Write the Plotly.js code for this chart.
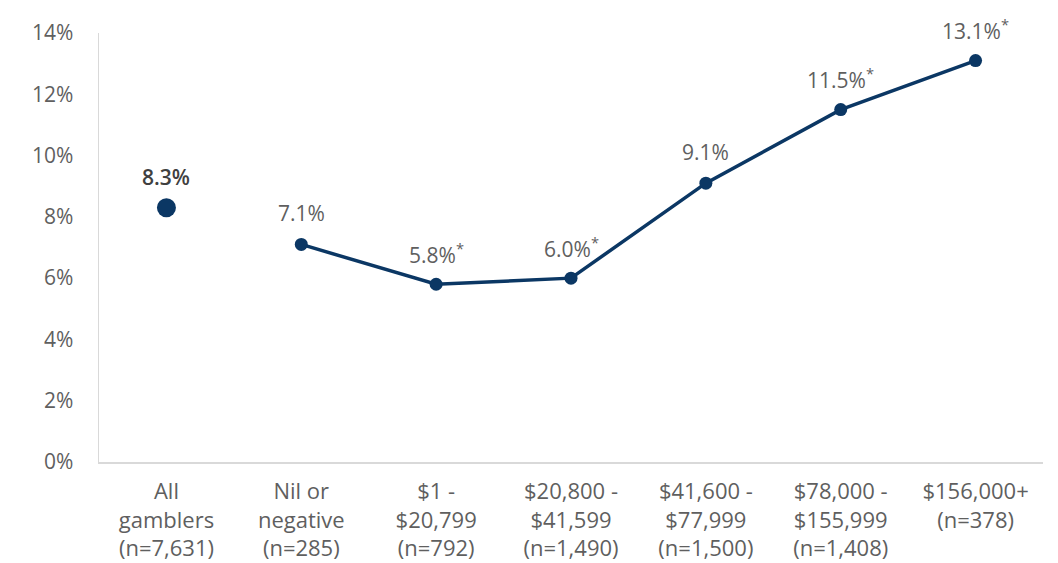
<!DOCTYPE html>
<html>
<head>
<meta charset="utf-8">
<script src="https://cdn.plot.ly/plotly-3.0.1.min.js"></script>
<style>html,body{margin:0;padding:0;background:#fff;}#chart{width:1058px;height:563px;}</style>
</head>
<body>
<div id="chart"></div>
<script>
const categories = ["All<br>gamblers<br>(n=7,631)", "Nil or<br>negative<br>(n=285)", "$1 -<br>$20,799<br>(n=792)", "$20,800 -<br>$41,599<br>(n=1,490)", "$41,600 -<br>$77,999<br>(n=1,500)", "$78,000 -<br>$155,999<br>(n=1,408)", "$156,000+<br>(n=378)"];
const allValue = [8.3];
const allLabel = ["8.3%"];
const incomeCategories = categories.slice(1);
const incomeValues = [7.1, 5.8, 6.0, 9.1, 11.5, 13.1];
const incomeLabels = ["7.1%", "5.8%<sup>*</sup>", "6.0%<sup>*</sup>", "9.1%", "11.5%<sup>*</sup>", "13.1%<sup>*</sup>"];
const yTicks = [0, 2, 4, 6, 8, 10, 12, 14];

const navy = "#0B3764";
const gray = "#5f5f5f";
const fontFam = "'Open Sans', 'Noto Sans', sans-serif";

const traces = [
  {x: [categories[0]], y: allValue, type: "scatter", mode: "markers",
   marker: {color: navy, size: 19}, hoverinfo: "skip"},
  {x: incomeCategories, y: incomeValues, type: "scatter", mode: "lines+markers",
   line: {color: navy, width: 3.5}, marker: {color: navy, size: 13}, hoverinfo: "skip"}
];

const annotations = [];
allValue.forEach((v, i) => annotations.push({x: categories[0], y: v, text: allLabel[i], showarrow: false, yshift: 31, yanchor: "middle",
  font: {family: fontFam, size: 21, color: "#404040", weight: 600}}));
incomeValues.forEach((v, i) => annotations.push({x: incomeCategories[i], y: v, text: incomeLabels[i], showarrow: false, yshift: 31, yanchor: "middle",
  font: {family: fontFam, size: 21, color: gray}}));

const layout = {
  width: 1058, height: 563,
  margin: {l: 99, r: 15, t: 33, b: 101, pad: 0},
  paper_bgcolor: "#fff", plot_bgcolor: "#fff",
  showlegend: false,
  font: {family: fontFam, size: 21, color: gray},
  xaxis: {type: "category", categoryorder: "array", categoryarray: categories, range: [-0.5, 6.5],
    showline: true, linecolor: "#d9d9d9", linewidth: 1.5, showgrid: false, zeroline: false,
    ticks: "outside", ticklen: 9, tickcolor: "rgba(0,0,0,0)", tickfont: {size: 22, color: gray}},
  yaxis: {range: [0, 14], tickvals: yTicks, ticktext: yTicks.map(t => t + "%"),
    showline: true, linecolor: "#d9d9d9", linewidth: 1.5, showgrid: false, zeroline: false,
    ticks: "outside", ticklen: 20, tickcolor: "rgba(0,0,0,0)", tickfont: {size: 21, color: gray}},
  annotations: annotations
};

Plotly.newPlot("chart", traces, layout, {displayModeBar: false, staticPlot: true});
</script>
</body>
</html>
